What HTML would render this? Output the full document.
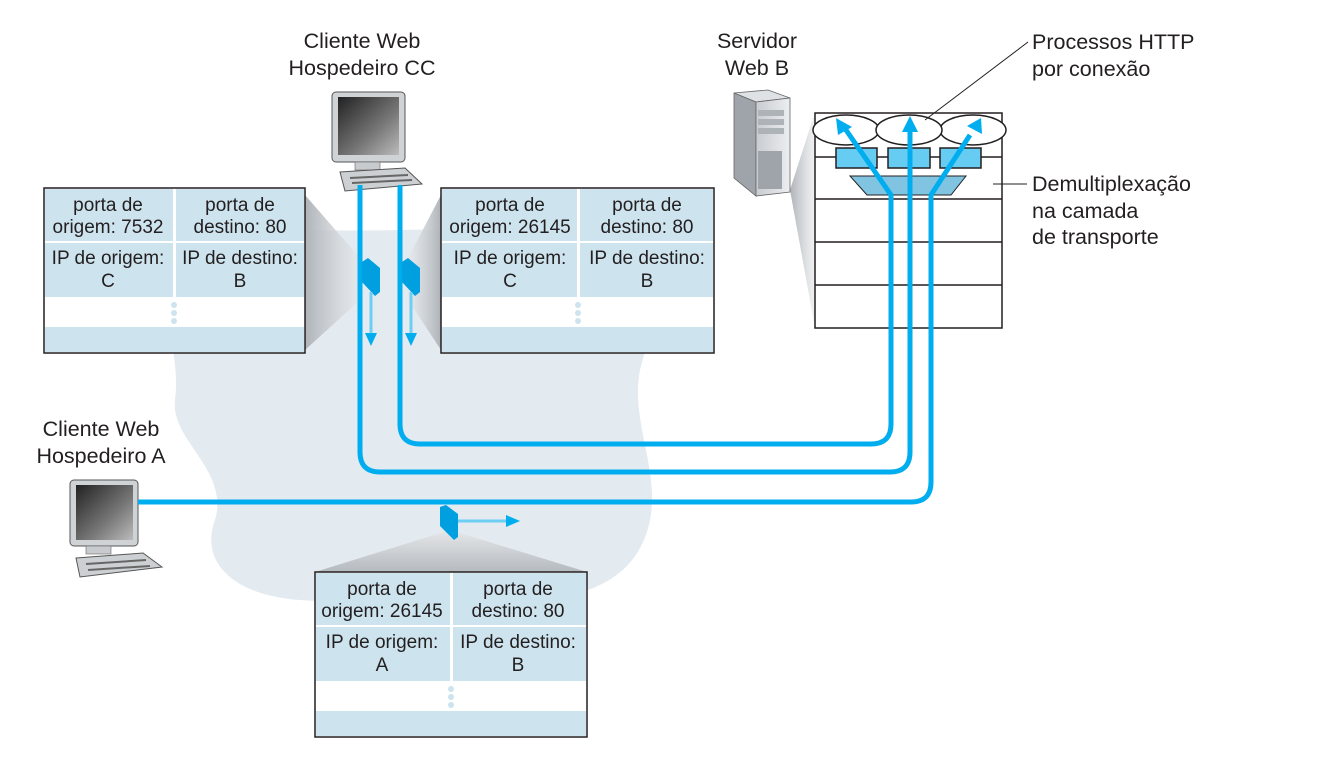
<!DOCTYPE html>
<html><head><meta charset="utf-8"><style>
html,body{margin:0;padding:0;background:#fff;}
svg{display:block;font-family:"Liberation Sans",sans-serif;}
text{fill:#231f20;font-size:21.5px;}
.t{font-size:19px;}
</style></head><body>
<svg width="1319" height="761" viewBox="0 0 1319 761">
<defs>
<linearGradient id="cone" x1="0" x2="1" y1="0" y2="0"><stop offset="0" stop-color="#aeb3b8"/><stop offset="1" stop-color="#e6e8ea" stop-opacity="0.6"/></linearGradient>
<linearGradient id="coneL" x1="1" x2="0" y1="0" y2="0"><stop offset="0" stop-color="#aeb3b8"/><stop offset="1" stop-color="#e6e8ea" stop-opacity="0.6"/></linearGradient>
<linearGradient id="coneV" x1="0" x2="0" y1="0" y2="1"><stop offset="0" stop-color="#e6e8ea"/><stop offset="1" stop-color="#b5babf"/></linearGradient>
<linearGradient id="scr" x1="0" x2="1" y1="0" y2="1"><stop offset="0" stop-color="#222"/><stop offset="0.6" stop-color="#777"/><stop offset="1" stop-color="#bbb"/></linearGradient>
<linearGradient id="tower" x1="0" x2="1"><stop offset="0" stop-color="#c8ccd0"/><stop offset="1" stop-color="#eceef0"/></linearGradient>
</defs>

<path d="M175 250 C230 225 330 232 400 230 C470 228 560 235 620 260 C670 290 650 330 640 370 C630 420 660 470 650 520 C640 570 600 600 520 600 C440 600 380 605 300 600 C230 595 200 560 215 520 C230 470 170 440 175 400 C180 360 165 330 170 300 Z" fill="#e3eaf0"/>

<polygon points="305,195 360,258 360,300 305,350" fill="url(#cone)"/>
<polygon points="441,195 408,258 408,300 441,350" fill="url(#coneL)"/>
<polygon points="450,530 315,572 587,572" fill="url(#coneV)"/>
<polygon points="790,190 815,112 815,328" fill="url(#cone)"/>

<g stroke="#231f20" stroke-width="1.5" fill="#fff">
<rect x="815" y="113" width="187" height="215"/>
<line x1="815" y1="157" x2="1002" y2="157"/>
<line x1="815" y1="199" x2="1002" y2="199"/>
<line x1="815" y1="242" x2="1002" y2="242"/>
<line x1="815" y1="285" x2="1002" y2="285"/>
<rect x="836" y="148" width="41" height="20" fill="#66ccf2"/>
<rect x="888" y="148" width="42" height="20" fill="#66ccf2"/>
<rect x="940" y="148" width="41" height="20" fill="#66ccf2"/>
<polygon points="850,176 966,176 951,195 867,195" fill="#80c4e2" stroke-width="1"/>
<ellipse cx="846" cy="130" rx="33" ry="15"/>
<ellipse cx="973" cy="130" rx="33" ry="15"/>
<ellipse cx="909" cy="130" rx="33" ry="15"/>
</g>

<g>
<polygon points="734,93 768,90 790,98 756,102" fill="#dfe2e5" stroke="#666" stroke-width="0.8"/>
<polygon points="734,93 756,102 756,196 734,178" fill="#9ea4aa" stroke="#666" stroke-width="0.8"/>
<polygon points="756,102 790,98 790,192 756,196" fill="url(#tower)" stroke="#666" stroke-width="0.8"/>
<rect x="758" y="110" width="26" height="6" fill="#aeb3b8"/>
<rect x="758" y="119" width="26" height="6" fill="#aeb3b8"/>
<rect x="758" y="128" width="26" height="6" fill="#aeb3b8"/>
<rect x="758" y="151" width="24" height="38" fill="#9ea4aa"/>
</g>

<g>
<rect x="332" y="92" width="73" height="70" rx="4" fill="#d0d3d6" stroke="#555"/>
<rect x="338" y="97" width="61" height="58" fill="url(#scr)"/>
<rect x="355" y="162" width="25" height="8" fill="#c8cbce" stroke="#666" stroke-width="0.6"/>
<polygon points="340,172 405,168 422,184 345,191" fill="#ccd0d3" stroke="#555"/>
<line x1="350" y1="178" x2="408" y2="175" stroke="#666" stroke-width="2"/>
<line x1="352" y1="183" x2="412" y2="180" stroke="#666" stroke-width="2"/>
</g>
<g>
<rect x="70" y="480" width="68" height="66" rx="4" fill="#d0d3d6" stroke="#555"/>
<rect x="76" y="485" width="57" height="55" fill="url(#scr)"/>
<rect x="86" y="546" width="25" height="8" fill="#c8cbce" stroke="#666" stroke-width="0.6"/>
<polygon points="76,558 143,553 162,567 80,577" fill="#ccd0d3" stroke="#555"/>
<line x1="86" y1="564" x2="146" y2="560" stroke="#666" stroke-width="2"/>
<line x1="88" y1="570" x2="150" y2="566" stroke="#666" stroke-width="2"/>
</g>

<g fill="none" stroke="#00aeef" stroke-width="5">
<path d="M400 185 L400 424 Q400 444 420 444 L871 444 Q891 444 891 424 L891 195 L846 130"/>
<path d="M360 185 L360 452 Q360 472 380 472 L890 472 Q910 472 910 452 L910 128"/>
<path d="M138 502 L911 502 Q931 502 931 482 L931 195 L970 135"/>
</g>
<g fill="#00aeef">
<polygon points="836,118 852,127 838,135"/>
<polygon points="910,116 902,132 918,132"/>
<polygon points="981,118 967,126 982,134"/>
</g>

<g>
<polygon points="362,262 368,258 380,268 380,292 375,296 362,282" fill="#00a0e0"/>
<line x1="371" y1="292" x2="371" y2="335" stroke="#6ccff3" stroke-width="3"/>
<polygon points="365,333 377,333 371,346" fill="#00aeef"/>
</g>
<g>
<polygon points="402,262 408,258 420,268 420,292 415,296 402,282" fill="#00a0e0"/>
<line x1="411" y1="292" x2="411" y2="335" stroke="#6ccff3" stroke-width="3"/>
<polygon points="405,333 417,333 411,346" fill="#00aeef"/>
</g>
<g>
<polygon points="440,507 446,505 458,514 458,537 454,540 440,526" fill="#00a0e0"/>
<line x1="458" y1="521" x2="508" y2="521" stroke="#6ccff3" stroke-width="3"/>
<polygon points="506,515 506,527 520,521" fill="#00aeef"/>
</g>

<g>
<rect x="44" y="188" width="261" height="165" fill="#fff" stroke="#231f20" stroke-width="1.5"/>
<rect x="45" y="189" width="128" height="52" fill="#cde3ee"/><rect x="176" y="189" width="128" height="52" fill="#cde3ee"/>
<rect x="45" y="243" width="128" height="54" fill="#cde3ee"/><rect x="176" y="243" width="128" height="54" fill="#cde3ee"/>
<rect x="45" y="327" width="259" height="25" fill="#cde3ee"/>
<circle cx="174" cy="305" r="3" fill="#cde3ee"/><circle cx="174" cy="313" r="3" fill="#cde3ee"/><circle cx="174" cy="321" r="3" fill="#cde3ee"/>
<text class="t" x="108" y="211" text-anchor="middle">porta de</text><text class="t" x="108" y="233" text-anchor="middle">origem: 7532</text>
<text class="t" x="240" y="211" text-anchor="middle">porta de</text><text class="t" x="240" y="233" text-anchor="middle">destino: 80</text>
<text class="t" x="108" y="264" text-anchor="middle">IP de origem:</text><text class="t" x="108" y="287" text-anchor="middle">C</text>
<text class="t" x="240" y="264" text-anchor="middle">IP de destino:</text><text class="t" x="240" y="287" text-anchor="middle">B</text>
</g>
<g>
<rect x="441" y="188" width="273" height="165" fill="#fff" stroke="#231f20" stroke-width="1.5"/>
<rect x="442" y="189" width="135" height="52" fill="#cde3ee"/><rect x="580" y="189" width="133" height="52" fill="#cde3ee"/>
<rect x="442" y="243" width="135" height="54" fill="#cde3ee"/><rect x="580" y="243" width="133" height="54" fill="#cde3ee"/>
<rect x="442" y="327" width="271" height="25" fill="#cde3ee"/>
<circle cx="578" cy="305" r="3" fill="#cde3ee"/><circle cx="578" cy="313" r="3" fill="#cde3ee"/><circle cx="578" cy="321" r="3" fill="#cde3ee"/>
<text class="t" x="510" y="211" text-anchor="middle">porta de</text><text class="t" x="510" y="233" text-anchor="middle">origem: 26145</text>
<text class="t" x="647" y="211" text-anchor="middle">porta de</text><text class="t" x="647" y="233" text-anchor="middle">destino: 80</text>
<text class="t" x="510" y="264" text-anchor="middle">IP de origem:</text><text class="t" x="510" y="287" text-anchor="middle">C</text>
<text class="t" x="647" y="264" text-anchor="middle">IP de destino:</text><text class="t" x="647" y="287" text-anchor="middle">B</text>
</g>
<g>
<rect x="315" y="572" width="272" height="165" fill="#fff" stroke="#231f20" stroke-width="1.5"/>
<rect x="316" y="573" width="134" height="52" fill="#cde3ee"/><rect x="453" y="573" width="133" height="52" fill="#cde3ee"/>
<rect x="316" y="627" width="134" height="54" fill="#cde3ee"/><rect x="453" y="627" width="133" height="54" fill="#cde3ee"/>
<rect x="316" y="711" width="270" height="25" fill="#cde3ee"/>
<circle cx="451" cy="689" r="3" fill="#cde3ee"/><circle cx="451" cy="697" r="3" fill="#cde3ee"/><circle cx="451" cy="705" r="3" fill="#cde3ee"/>
<text class="t" x="382" y="595" text-anchor="middle">porta de</text><text class="t" x="382" y="617" text-anchor="middle">origem: 26145</text>
<text class="t" x="518" y="595" text-anchor="middle">porta de</text><text class="t" x="518" y="617" text-anchor="middle">destino: 80</text>
<text class="t" x="382" y="648" text-anchor="middle">IP de origem:</text><text class="t" x="382" y="671" text-anchor="middle">A</text>
<text class="t" x="518" y="648" text-anchor="middle">IP de destino:</text><text class="t" x="518" y="671" text-anchor="middle">B</text>
</g>

<text x="362" y="48" text-anchor="middle">Cliente Web</text>
<text x="362" y="75" text-anchor="middle">Hospedeiro CC</text>
<text x="757" y="48" text-anchor="middle">Servidor</text>
<text x="757" y="75" text-anchor="middle">Web B</text>
<text x="101" y="436" text-anchor="middle">Cliente Web</text>
<text x="101" y="463" text-anchor="middle">Hospedeiro A</text>
<text x="1032" y="49">Processos HTTP</text>
<text x="1032" y="76">por conexão</text>
<line x1="1028" y1="42" x2="925" y2="120" stroke="#231f20" stroke-width="1"/>
<text x="1032" y="191">Demultiplexação</text>
<text x="1032" y="218">na camada</text>
<text x="1032" y="244">de transporte</text>
<line x1="993" y1="184" x2="1027" y2="184" stroke="#231f20" stroke-width="1"/>
</svg>
</body></html>
